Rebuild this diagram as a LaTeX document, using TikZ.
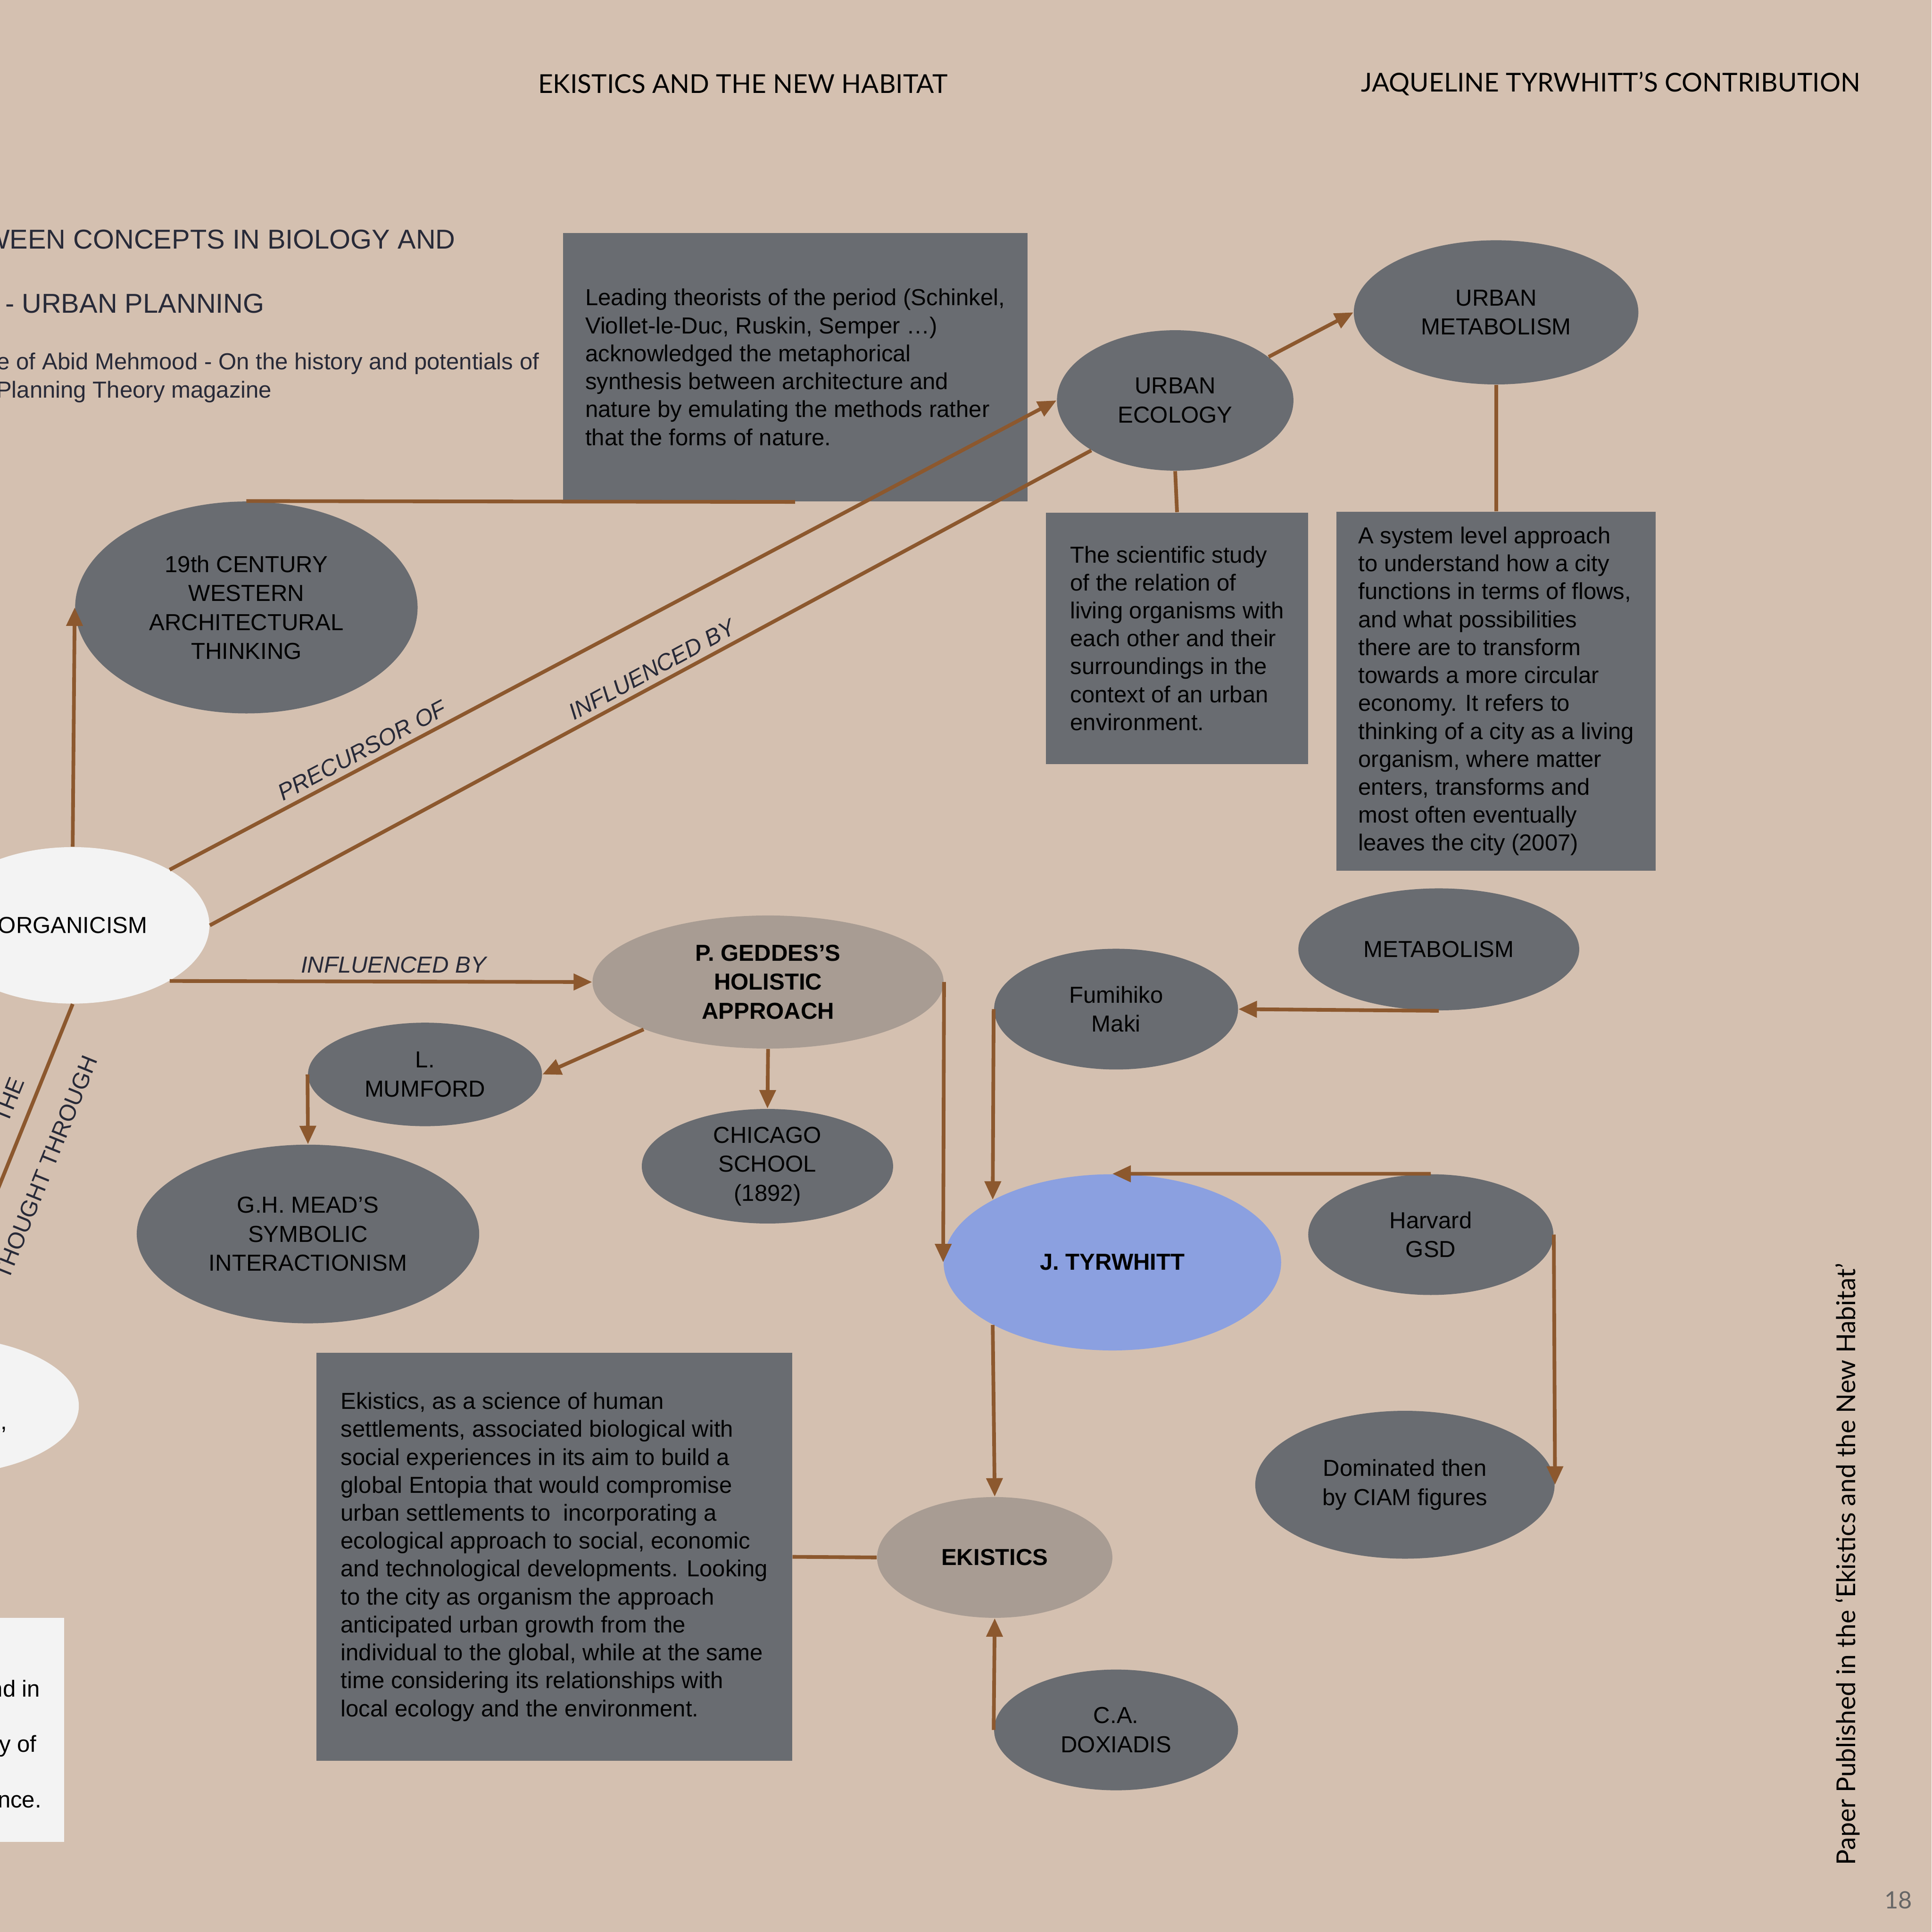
\documentclass[tikz,border=0pt]{standalone}
\usepackage{fontspec}
\setmainfont{Liberation Sans}
\newfontfamily\latofont{Lato}
\usetikzlibrary{positioning, arrows.meta, shapes.geometric}
\definecolor{paper}{RGB}{212,192,176}
\definecolor{slate}{RGB}{105,108,113}
\definecolor{taupe}{RGB}{168,156,147}
\definecolor{periwinkle}{RGB}{139,160,224}
\definecolor{offwhite}{RGB}{243,243,243}
\definecolor{linkbrown}{RGB}{140,88,46}
\definecolor{ink}{RGB}{40,42,56}

\begin{document}
\begin{tikzpicture}[x=0.2mm, y=-0.2mm,
    bubble/.style={ellipse, fill=slate, inner sep=0pt, align=center, text=black,
      font=\fontsize{10.7}{13.4}\selectfont},
    keynode/.style={bubble, fill=taupe, font=\fontsize{10.7}{13.4}\selectfont\bfseries},
    note/.style={rectangle, fill=slate, inner sep=0pt, align=left, text=black,
      font=\fontsize{10.7}{12.9}\selectfont},
    link/.style={draw=linkbrown, line width=0.6mm},
    arr/.style={link, -{Triangle[length=3mm, width=2.6mm]}},
    tag/.style={font=\fontsize{10.7}{12.9}\selectfont\itshape, text=ink, inner sep=2.5pt},
    uptag/.style={font=\fontsize{10.7}{12.9}\selectfont, text=ink, inner sep=2.5pt},
    heading/.style={font=\latofont\fontsize{12}{14}\selectfont, text=black}]

  \path[use as bounding box, fill=paper] (0,0) rectangle (1568,1568);

  % Titles
  \node[heading] (title) at (603,68) {EKISTICS AND THE NEW HABITAT};
  \node[heading] (subject) at (1307.5,68) {JAQUELINE TYRWHITT’S CONTRIBUTION};

  % Cut text on the left
  \node[anchor=base east, inner sep=0pt, text=ink, font=\fontsize{12.6}{15}\selectfont] (lhead1) at (370,202) {WEEN CONCEPTS IN BIOLOGY AND};
  \node[anchor=base east, inner sep=0pt, text=ink, font=\fontsize{12.6}{15}\selectfont] (lhead2) at (215,254) {- URBAN PLANNING};
  \node[anchor=base east, inner sep=0pt, text=ink, font=\fontsize{10.7}{12.9}\selectfont] (lsrc1) at (438,300) {e of Abid Mehmood - On the history and potentials of};
  \node[anchor=base east, inner sep=0pt, text=ink, font=\fontsize{10.7}{12.9}\selectfont] (lsrc2) at (221,323) {Planning Theory magazine};

  % Nodes
  \node[bubble, minimum width=55.6mm, minimum height=34.4mm] (hist) at (200,493) {19th CENTURY\\WESTERN\\ARCHITECTURAL\\THINKING};
  \node[note, minimum width=75.4mm, minimum height=43.6mm] (lead) at (645.5,298)
    {Leading theorists of the period (Schinkel,\\Viollet-le-Duc, Ruskin, Semper …)\\acknowledged the metaphorical\\synthesis between architecture and\\nature by emulating the methods rather\\that the forms of nature.};
  \node[bubble, fill=offwhite, minimum width=44.4mm, minimum height=25.4mm] (org) at (59,751) {ORGANICISM};
  \node[bubble, fill=offwhite, minimum width=45.6mm, minimum height=22.4mm] (rest) at (-50,1141) {};
  \node[anchor=base east, inner sep=0pt, font=\fontsize{10.7}{12.9}\selectfont] (restend) at (6,1160) {,};
  \node[rectangle, fill=offwhite, inner sep=0pt, minimum width=22.4mm, minimum height=36.4mm] (wbox) at (-4,1404) {};
  \node[anchor=base east, inner sep=0pt, font=\fontsize{10.7}{12.9}\selectfont] (wline1) at (33,1377) {nd in};
  \node[anchor=base east, inner sep=0pt, font=\fontsize{10.7}{12.9}\selectfont] (wline2) at (30,1422) {y of};
  \node[anchor=base east, inner sep=0pt, font=\fontsize{10.7}{12.9}\selectfont] (wline3) at (34,1467) {nce.};

  \node[bubble, minimum width=38.4mm, minimum height=22.8mm] (eco) at (954,325) {URBAN\\ECOLOGY};
  \node[bubble, minimum width=46.2mm, minimum height=23.4mm] (umet) at (1214.5,253.5) {URBAN\\METABOLISM};
  \node[note, minimum width=42.6mm, minimum height=40.8mm] (ebox) at (955.5,518)
    {The scientific study\\of the relation of\\living organisms with\\each other and their\\surroundings in the\\context of an urban\\environment.};
  \node[note, minimum width=51.8mm, minimum height=58.2mm] (mbox) at (1214.5,561)
    {A system level approach\\to understand how a city\\functions in terms of flows,\\and what possibilities\\there are to transform\\towards a more circular\\economy. It refers to\\thinking of a city as a living\\organism, where matter\\enters, transforms and\\most often eventually\\leaves the city (2007)};
  \node[bubble, minimum width=45.6mm, minimum height=19.8mm] (met) at (1168,770.5) {METABOLISM};
  \node[keynode, minimum width=57mm, minimum height=21.6mm] (ged) at (623.5,797) {P. GEDDES’S\\HOLISTIC\\APPROACH};
  \node[bubble, minimum width=38mm, minimum height=16.8mm] (mum) at (345,872) {L.\\MUMFORD};
  \node[bubble, minimum width=55.6mm, minimum height=29mm] (mead) at (250,1001.5) {G.H. MEAD’S\\SYMBOLIC\\INTERACTIONISM};
  \node[bubble, minimum width=40.8mm, minimum height=18.6mm] (chi) at (623,946.5) {CHICAGO\\SCHOOL\\(1892)};
  \node[bubble, minimum width=39.6mm, minimum height=19.6mm] (maki) at (906,819) {Fumihiko\\Maki};
  \node[keynode, fill=periwinkle, minimum width=54.8mm, minimum height=28.6mm] (tyr) at (903,1024.5) {J. TYRWHITT};
  \node[bubble, minimum width=39.8mm, minimum height=19.6mm] (harv) at (1161.5,1002) {Harvard\\GSD};
  \node[bubble, minimum width=48.6mm, minimum height=24mm] (dom) at (1140.5,1205) {Dominated then\\by CIAM figures};
  \node[keynode, minimum width=38.2mm, minimum height=19.6mm] (eki) at (807.5,1264) {EKISTICS};
  \node[note, minimum width=77.2mm, minimum height=66.2mm] (kbox) at (450,1263.5)
    {Ekistics, as a science of human\\settlements, associated biological with\\social experiences in its aim to build a\\global Entopia that would compromise\\urban settlements to\ \ incorporating a\\ecological approach to social, economic\\and technological developments. Looking\\to the city as organism the approach\\anticipated urban growth from the\\individual to the global, while at the same\\time considering its relationships with\\local ecology and the environment.};
  \node[bubble, minimum width=39.6mm, minimum height=19.6mm] (dox) at (906,1404) {C.A.\\DOXIADIS};

  % Side text and page number
  \node[rotate=90, text=black, font=\latofont\fontsize{12}{14}\selectfont] (paperref) at (1500,1269.5) {Paper Published in the ‘Ekistics and the New Habitat’};
  \node[text=black!60, font=\latofont\fontsize{11}{13}\selectfont] (pageno) at (1541,1542) {18};

  % Connectors
  \draw[arr] (org.north) -- (hist.west);
  \draw[link] (hist.north) -- (lead.south);
  \draw[arr] (org.north east) -- node[tag, pos=0.225, sloped, above] {PRECURSOR OF} (eco.west);
  \draw[link] (org.east) -- node[tag, pos=0.51, sloped, above] {INFLUENCED BY} (eco.south west);
  \draw[arr] (org.south east) -- node[tag, pos=0.53, above=0.5pt] {INFLUENCED BY} (ged.west);
  \draw[link] (org.south) -- node[uptag, pos=0.45, sloped, below=3.4mm] {THOUGHT THROUGH}
    node[uptag, pos=0.23, sloped, anchor=south east, outer ysep=1.6mm] {THE} (rest.north);
  \draw[arr] (eco.25) -- (umet.west);
  \draw[link] (eco.south) -- (ebox.north);
  \draw[link] (umet.south) -- (mbox.north);
  \draw[arr] (ged.south west) -- (mum.east);
  \draw[arr] (mum.west) -- (mead.north);
  \draw[arr] (ged.south) -- (chi.north);
  \draw[arr] (ged.east) -- (tyr.west);
  \draw[arr] (met.south) -- (maki.east);
  \draw[arr] (maki.west) -- (tyr.north west);
  \draw[arr] (harv.north) -- (tyr.north);
  \draw[arr] (harv.east) -- (dom.east);
  \draw[arr] (tyr.south west) -- (eki.north);
  \draw[link] (kbox.east) -- (eki.west);
  \draw[arr] (dox.west) -- (eki.south);
\end{tikzpicture}
\end{document}
